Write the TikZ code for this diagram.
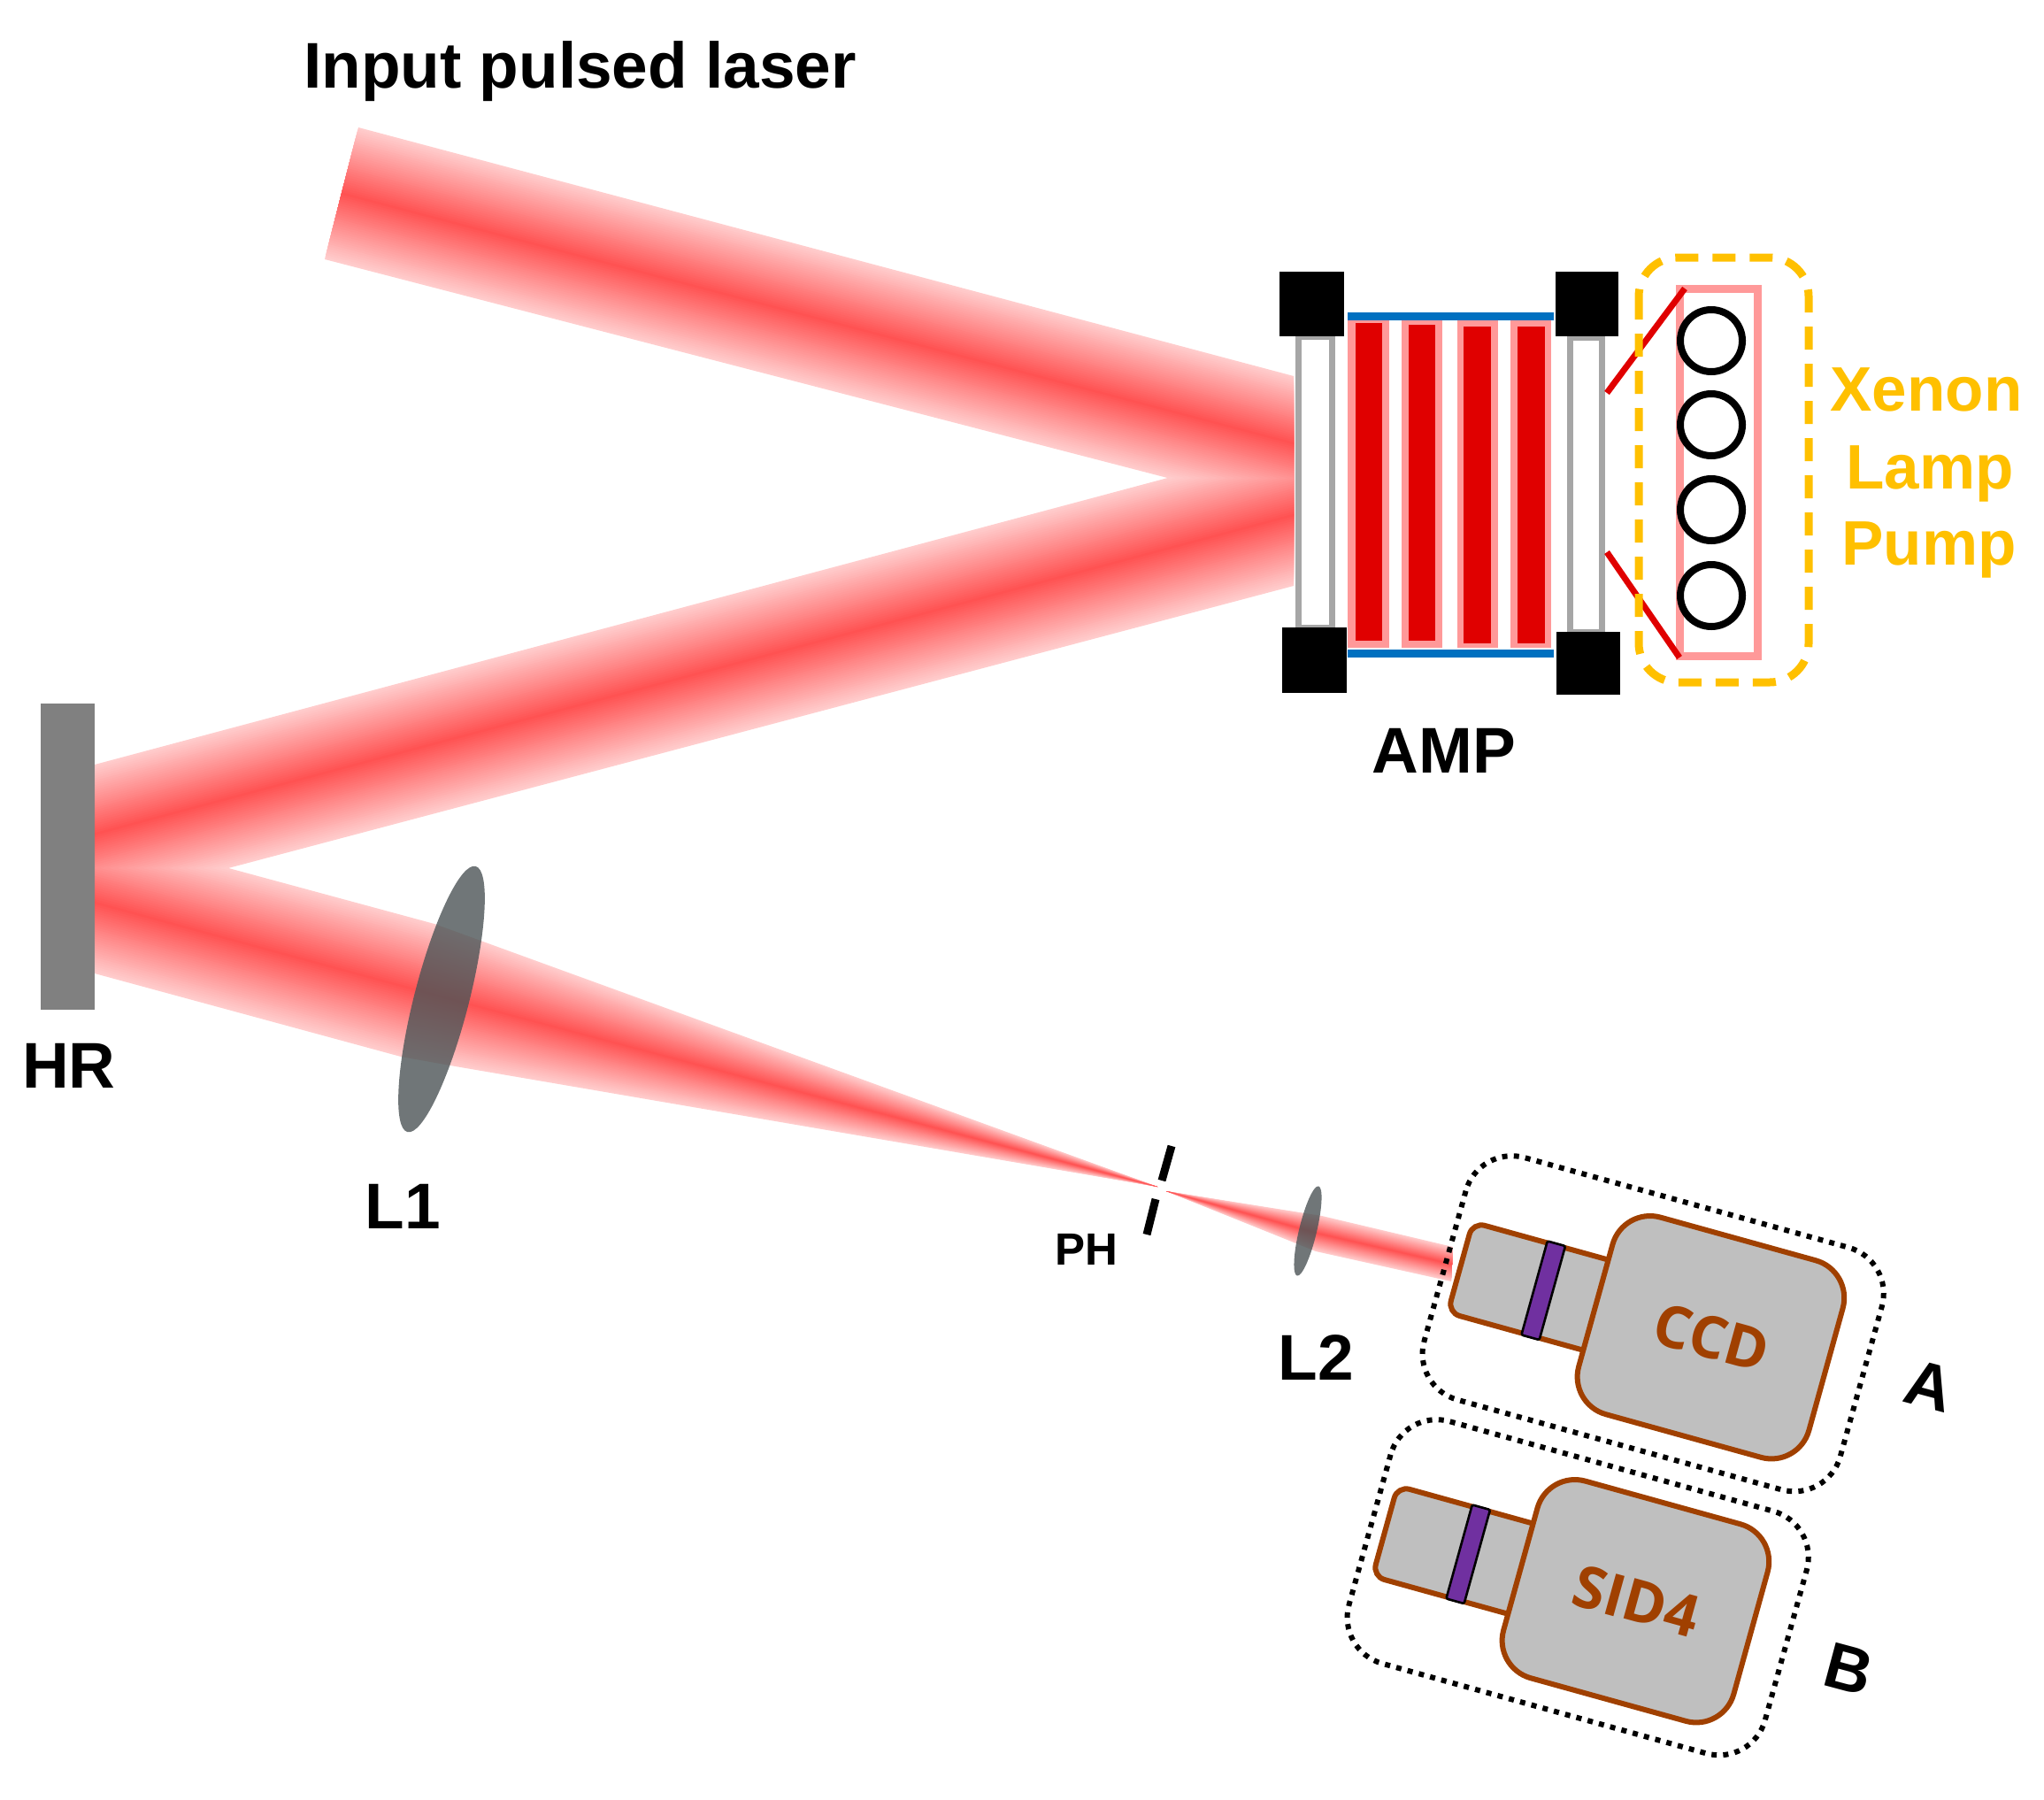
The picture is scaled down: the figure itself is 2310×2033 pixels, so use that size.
\documentclass[tikz,border=0pt]{standalone}
\usepackage{fontspec}
\setmainfont{Liberation Sans}
\newfontfamily\camfont{Open Sans}
\usetikzlibrary{calc}
\definecolor{beamred}{HTML}{FF0000}
\definecolor{mirrorgrey}{HTML}{808080}
\definecolor{lensgrey}{RGB}{76,84,86}
\definecolor{windowgrey}{HTML}{A6A6A6}
\definecolor{ampblue}{HTML}{0070C0}
\definecolor{amppink}{HTML}{FF9999}
\definecolor{ampred}{HTML}{E00000}
\definecolor{pumpyellow}{HTML}{FFC000}
\definecolor{cambrown}{HTML}{A04000}
\definecolor{camfill}{HTML}{BFBFBF}
\definecolor{filterpurple}{HTML}{7030A0}
\tikzset{
  lens/.style={fill=lensgrey,fill opacity=0.8},
  block/.style={fill=black},
  window/.style={draw=windowgrey,line width=3.5pt,fill=white},
  rod/.style={fill=amppink},
  rodcore/.style={fill=ampred},
  bluebar/.style={draw=ampblue,line width=4.5pt},
  redline/.style={draw=ampred,line width=3.5pt},
  lamp/.style={draw=black,line width=4pt},
  pinkbox/.style={draw=amppink,line width=4.5pt},
  yellowbox/.style={draw=pumpyellow,line width=4.5pt,dash pattern=on 13pt off 8pt,rounded corners=22pt},
  lbl/.style={inner sep=0pt,anchor=base,font=\bfseries\fontsize{36.5pt}{40pt}\selectfont},
  ylbl/.style={lbl,text=pumpyellow,font=\bfseries\fontsize{35.5pt}{40pt}\selectfont},
  camshape/.style={draw=cambrown,line width=3pt,fill=camfill},
  camlbl/.style={inner sep=0pt,anchor=center,text=cambrown,rotate=-15.5,font=\camfont\bfseries\fontsize{33pt}{36pt}\selectfont},
  filterbar/.style={draw=black,line width=1.3pt,fill=filterpurple,rounded corners=1pt},
  dotframe/.style={draw=black,line width=3pt,dash pattern=on 3pt off 3.6pt,rounded corners=27pt},
  slit/.style={draw=black,line width=4.5pt},
}
% one nested band of a beam: stations top/bottom, inset fraction \f, current colour \p
\newcommand{\beamband}[8]{%
  \fill[beamred!\p!white] ($(#1)!\f!(#2)$)--($(#3)!\f!(#4)$)--($(#5)!\f!(#6)$)--($(#7)!\f!(#8)$)
      --($(#8)!\f!(#7)$)--($(#6)!\f!(#5)$)--($(#4)!\f!(#3)$)--($(#2)!\f!(#1)$)--cycle;
}
\newcommand{\camera}[4]{%
  \begin{scope}[shift={(#1)},rotate=-15.5]
    \path[dotframe] (-312,-139) rectangle (176,145);
    \path[camshape,rounded corners=7pt] (-100,-53) -- (-295,-53) -- (-295,53) -- (-100,53) -- cycle;
    \path[camshape,rounded corners=22pt] (-136,-115) rectangle (134,116);
    \path[filterbar] (-208,-55) rectangle (-187,55);
    \node[camlbl] (#3) at (#4) {#2};
  \end{scope}%
}
\begin{document}
\begin{tikzpicture}[x=0.5pt,y=-0.5pt]
\useasboundingbox (0,0) rectangle (2310,2033);
% beam coordinates
\coordinate (ua) at (405,144);   \coordinate (ub) at (367,293);
\coordinate (uc) at (1462,425);  \coordinate (ud) at (1462,577);
\coordinate (la) at (107,864);   \coordinate (lb) at (107,1021);
\coordinate (lc) at (1462,502);  \coordinate (ld) at (1462,662);
\coordinate (fa) at (107,940);   \coordinate (fb) at (107,1100);
\coordinate (fc) at (491,1044);  \coordinate (fd) at (453,1194);
\coordinate (fe) at (546,1064);  \coordinate (ff) at (509,1204);
\coordinate (focus) at (1308,1341);
\coordinate (ga) at (1318,1346);
\coordinate (gc) at (1494,1374); \coordinate (gd) at (1487,1414);
\coordinate (ge) at (1642,1409); \coordinate (gf) at (1640,1448);
% lightest bands first, across all beams: where beams cross, the stronger one shows
\foreach \i in {0,...,30}{%
  \pgfmathsetmacro{\f}{\i/61}
  \pgfmathsetmacro{\p}{20+\i*1.6}
  \beamband{ua}{ub}{uc}{ud}{uc}{ud}{uc}{ud}
  \beamband{la}{lb}{lc}{ld}{lc}{ld}{lc}{ld}
  \beamband{fa}{fb}{fc}{fd}{fe}{ff}{focus}{focus}
  \beamband{ga}{ga}{gc}{gd}{ge}{gf}{ge}{gf}
}
% HR mirror
\fill[mirrorgrey] (46,795) rectangle (107,1141);
% lenses
\path[lens,rotate around={-14.4:(499,1129)}] (499,1129) ellipse [x radius=31,y radius=155];
\path[lens,rotate around={-13.5:(1478,1391)}] (1478,1391) ellipse [x radius=10,y radius=52];
% pinhole
\coordinate (pa) at (1324,1295); \coordinate (pb) at (1313,1334);
\coordinate (pc) at (1306,1355); \coordinate (pd) at (1296,1395);
\draw[slit] (pa) -- (pb);
\draw[slit] (pc) -- (pd);
% amplifier windows
\path[window] (1467,380) rectangle (1505,709);
\path[window] (1774,381) rectangle (1810,714);
% rods
\fill[rod] (1523,362) rectangle (1570,732);
\fill[rod] (1584,362) rectangle (1630,732);
\fill[rod] (1647,362) rectangle (1693,732);
\fill[rod] (1707,362) rectangle (1753,732);
\fill[rodcore] (1532,365) rectangle (1562,724);
\fill[rodcore] (1592,367) rectangle (1622,724);
\fill[rodcore] (1654,369) rectangle (1685,727);
\fill[rodcore] (1715,369) rectangle (1746,727);
\coordinate (ba) at (1523,357.5); \coordinate (bb) at (1756,357.5);
\coordinate (bc) at (1523,738.5); \coordinate (bd) at (1756,738.5);
\draw[bluebar] (ba) -- (bb);
\draw[bluebar] (bc) -- (bd);
% black mounts
\fill[block] (1446,307) rectangle (1519,380);
\fill[block] (1758,307) rectangle (1829,380);
\fill[block] (1449,709) rectangle (1522,783);
\fill[block] (1759,714) rectangle (1831,785);
% pump
\path[pinkbox] (1898,326) rectangle (1986,741);
\coordinate (ra) at (1816,444); \coordinate (rb) at (1904,326);
\coordinate (rc) at (1816,624); \coordinate (rd) at (1898,743);
\draw[redline] (ra) -- (rb);
\draw[redline] (rc) -- (rd);
\foreach \y in {385,480,576,673}{\draw[lamp] (1934,\y) circle [radius=35];}
\path[yellowbox] (1852,291) rectangle (2044,771);
% cameras
\camera{1934.5,1511}{CCD}{ccd}{0,0}
\camera{1849.5,1809}{SID4}{sid}{0,0}
% labels
\node[lbl] (input) at (655.5,100) {Input pulsed laser};
\node[ylbl] (xenon) at (2177,464) {Xenon};
\node[ylbl] (lampw) at (2181,552) {Lamp};
\node[ylbl] (pump) at (2180,638) {Pump};
\node[lbl] (amp) at (1632,873) {AMP};
\node[lbl] (hr) at (78,1229) {HR};
\node[lbl] (lone) at (455,1388) {L1};
\node[lbl] (ltwo) at (1487,1559) {L2};
\node[lbl,font=\bfseries\fontsize{25.5pt}{28pt}\selectfont] (ph) at (1228,1429) {PH};
\node[lbl,anchor=center,rotate=-15] (labela) at (2180,1566) {A};
\node[lbl,anchor=center,rotate=-15] (labelb) at (2089,1886) {B};
\end{tikzpicture}
\end{document}
